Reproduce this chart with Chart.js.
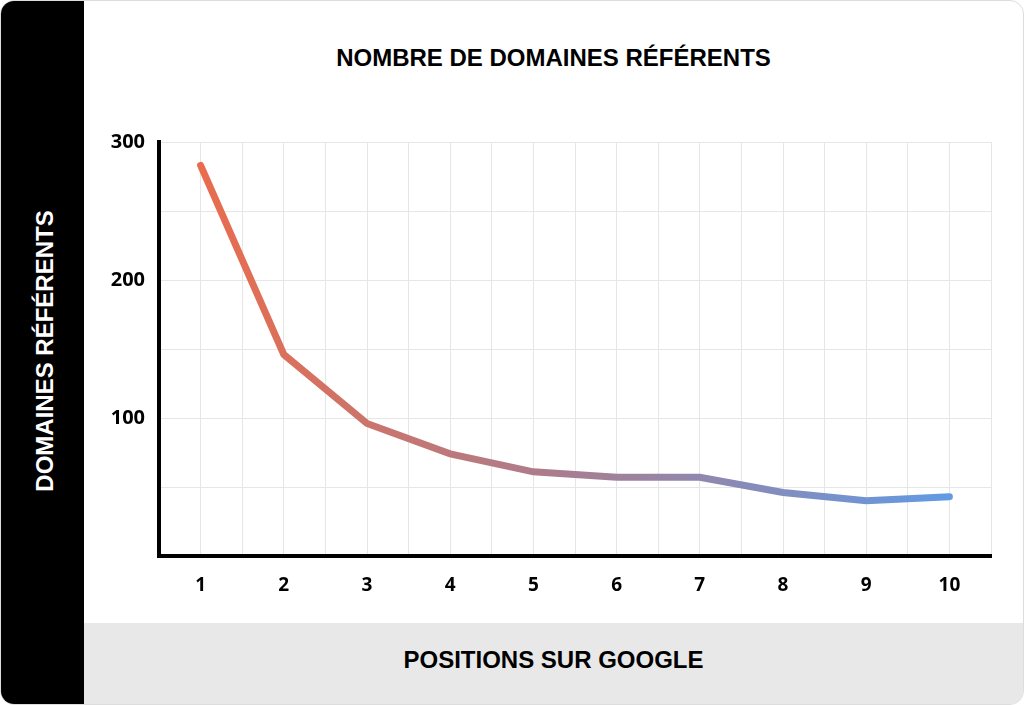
<!DOCTYPE html>
<html>
<head>
<meta charset="utf-8">
<script src="https://cdn.jsdelivr.net/npm/chart.js@4"></script>
<style>
  body { margin: 0; background: #fff; font-family: "Liberation Sans", Arial, sans-serif; }
  #wrap { position: relative; width: 1022px; height: 703px; border: 1px solid #ddd; border-radius: 14px; overflow: hidden; background: #fff; }
  #side { position: absolute; left: 0; top: 0; width: 83px; height: 703px; background: #000; }
  #side span { position: absolute; left: 44px; top: 350px; transform: translate(-50%, -50%) rotate(-90deg); color: #fff; font-weight: bold; font-size: 24px; white-space: nowrap; }
  #band { position: absolute; left: 83px; top: 622px; right: 0; bottom: 0; background: #e8e8e8; text-align: center; line-height: 74px; font-weight: bold; font-size: 24px; color: #000; }
  #title { position: absolute; left: 83px; right: 0; top: 43px; text-align: center; font-weight: bold; font-size: 24px; color: #000; }
  #box { position: absolute; left: 83px; top: 0; width: 941px; height: 622px; }
</style>
</head>
<body>
<div id="wrap">
  <div id="side"><span>DOMAINES RÉFÉRENTS</span></div>
  <div id="title">NOMBRE DE DOMAINES RÉFÉRENTS</div>
  <div id="box"><canvas id="chart" width="941" height="622"></canvas></div>
  <div id="band">POSITIONS SUR GOOGLE</div>
</div>
<script>
const positions = [1, 2, 3, 4, 5, 6, 7, 8, 9, 10];
const domaines = [283, 146, 96, 74, 61, 57, 57, 46, 40, 43];
const yLabels = [100, 200, 300];

function lineGradient(context) {
    let area = context.chart.chartArea;
    if (!area) return "#ee6a47";
    let g = context.chart.ctx.createLinearGradient(area.left, 0, area.right, 0);
    g.addColorStop(0, "#f06a45");
    g.addColorStop(0.5, "#a77e92");
    g.addColorStop(1, "#5a9ded");
    return g;
}

new Chart(document.getElementById("chart"), {
    type: "line",
    data: {
        datasets: [
            {
                data: positions.map((p, i) => ({ x: p, y: domaines[i] })),
                borderColor: lineGradient,
                borderWidth: 7,
                pointRadius: 0,
                borderCapStyle: "round",
                tension: 0
            }
        ]
    },
    options: {
        responsive: false,
        animation: false,
        layout: { padding: { top: 141, right: 34, left: 0, bottom: 0 } },
        plugins: { legend: { display: false }, tooltip: { enabled: false } },
        scales: {
            x: {
                type: "linear",
                min: 0.5,
                max: 10.5,
                afterFit: (s) => { s.height = 67; },
                afterBuildTicks: (s) => {
                    let t = [];
                    for (let v = 0.5; v <= 10.5; v += 0.5) t.push({ value: v });
                    s.ticks = t;
                },
                ticks: {
                    color: "#000",
                    font: { size: 19, weight: "bold", family: "Open Sans" },
                    padding: 18,
                    maxRotation: 0,
                    autoSkip: false,
                    callback: (v) => (Number.isInteger(v) && v >= 1 ? String(v) : "")
                },
                grid: { color: "#e6e6e6", drawTicks: false },
                border: { color: "#000", width: 4 }
            },
            y: {
                min: 0,
                max: 300,
                afterFit: (s) => { s.width = 75; },
                ticks: {
                    stepSize: 50,
                    color: "#000",
                    font: { size: 20, weight: "bold", family: "Open Sans" },
                    padding: 14,
                    callback: (v) => (yLabels.includes(v) ? String(v) : "")
                },
                grid: { color: "#e6e6e6", drawTicks: false },
                border: { color: "#000", width: 4 }
            }
        }
    }
});
</script>
</body>
</html>
